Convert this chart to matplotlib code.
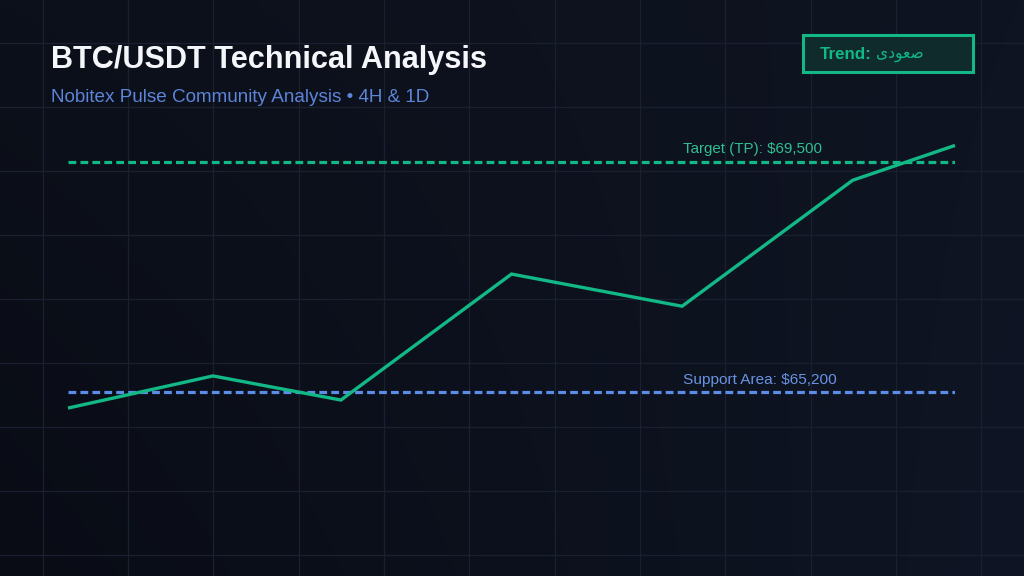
import numpy as np
import matplotlib
matplotlib.use("Agg")
import matplotlib.pyplot as plt
from matplotlib.patches import Rectangle
from matplotlib.colors import to_rgb
import matplotlib.transforms as mtransforms

plt.rcParams['lines.scale_dashes'] = False

# ---------------- data ----------------
title = "BTC/USDT Technical Analysis"
subtitle = "Nobitex Pulse Community Analysis \u2022 4H & 1D"
hours = [0, 17, 32, 52, 72, 92, 104]
prices = [64900, 65500, 65050, 67400, 66800, 69150, 69800]
target_price = 69500
support_price = 65200
target_label = "Target (TP): $69,500"
support_label = "Support Area: $65,200"
trend_prefix = "Trend:"
# "صعودی" written in visual (left-to-right) order with contextual forms
trend_word = "\uFBFC\uFEA9\uFEEE\uFECC\uFEBB"

# ---------------- style ----------------
W, H = 1024, 576
GREEN = "#12b886"
GREEN_TXT = "#2fbf92"
BLUE = "#5b8ce6"
BLUE_TXT = "#6a93e3"
SUB_BLUE = "#5d84d8"
GRID = "#1a2030"
LATIN = ['Liberation Sans', 'DejaVu Sans']

fig = plt.figure(figsize=(W / 100, H / 100), dpi=100)

# background axes in pixel coordinates
bg = fig.add_axes([0, 0, 1, 1])
bg.set_xlim(0, W)
bg.set_ylim(H, 0)
bg.axis('off')

c_tl, c_tr = np.array(to_rgb("#0c101a")), np.array(to_rgb("#0f1422"))
c_bl, c_br = np.array(to_rgb("#090c15")), np.array(to_rgb("#0f1524"))
yy, xx = np.mgrid[0:1:60j, 0:1:100j]
img = ((1 - yy)[..., None] * ((1 - xx)[..., None] * c_tl + xx[..., None] * c_tr)
       + yy[..., None] * ((1 - xx)[..., None] * c_bl + xx[..., None] * c_br))
bg.imshow(img, extent=[0, W, H, 0], aspect='auto', zorder=0, interpolation='bilinear')

gx = W / 12
for k in range(12):
    bg.axvline((k + 0.5) * gx, color=GRID, lw=0.9, zorder=1)
for k in range(9):
    bg.axhline(43 + 64 * k, color=GRID, lw=0.9, zorder=1)

# titles
bg.text(51, 68, title, color="#f4f6fa", fontsize=22.1, fontweight='bold',
        family=LATIN, va='baseline', ha='left', zorder=5)
bg.text(51, 102, subtitle, color=SUB_BLUE, fontsize=13.55,
        family=LATIN, va='baseline', ha='left', zorder=5)

# trend box
bg.add_patch(Rectangle((802.5, 34.5), 170, 37, facecolor="#0f2b2c",
                       edgecolor=GREEN, lw=2.2, zorder=4))
bg.text(820, 59, trend_prefix, color=GREEN, fontsize=12.2, fontweight='bold',
        family=LATIN, va='baseline', ha='left', zorder=5)
bg.text(876, 58, trend_word, color=GREEN, fontsize=11.2,
        family=['DejaVu Sans'], va='baseline', ha='left', zorder=5)

# ---------------- data axes ----------------
left_px, right_px = 68, 955
top_px, bot_px = 120, 470
tgt_px, sup_px = 161.5, 392
scale = (sup_px - tgt_px) / (target_price - support_price)
y_top = target_price + (tgt_px - top_px) / scale
y_bot = support_price - (bot_px - sup_px) / scale

ax = fig.add_axes([left_px / W, 1 - bot_px / H, (right_px - left_px) / W,
                   (bot_px - top_px) / H])
ax.set_xlim(hours[0], hours[-1])
ax.set_ylim(y_bot, y_top)
ax.patch.set_alpha(0)
ax.axis('off')

ax.axhline(target_price, color=GREEN, lw=2.3, linestyle=(0, (5.6, 3.0)), zorder=2)
ax.axhline(support_price, color=BLUE, lw=2.3, linestyle=(0, (5.6, 3.0)), zorder=2)
ax.plot(hours, prices, color=GREEN, lw=2.4, solid_joinstyle='miter',
        solid_capstyle='butt', zorder=3, clip_on=False)

trans = mtransforms.blended_transform_factory(ax.transAxes, ax.transData)
lab_x = (683 - left_px) / (right_px - left_px)
off = mtransforms.offset_copy(trans, fig=fig, x=0, y=6, units='points')
ax.text(lab_x, target_price, target_label, transform=off, color=GREEN_TXT,
        fontsize=10.9, family=LATIN, va='baseline', ha='left')
ax.text(lab_x, support_price, support_label, transform=off, color=BLUE_TXT,
        fontsize=11.1, family=LATIN, va='baseline', ha='left')

fig.savefig("out.png", dpi=100, facecolor="#0b0f19")
